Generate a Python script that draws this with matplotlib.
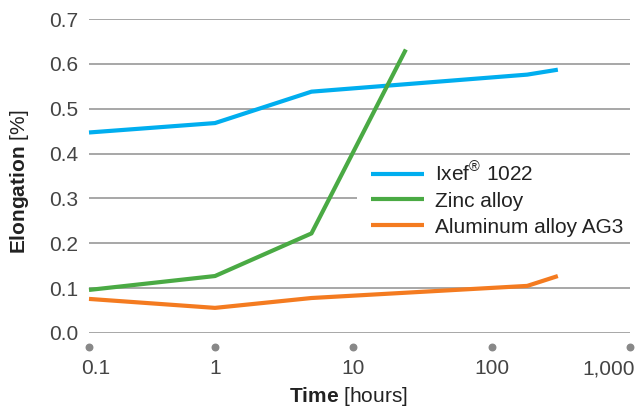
import matplotlib
matplotlib.use('Agg')
import matplotlib.pyplot as plt
import matplotlib.transforms as mtransforms
from matplotlib.patches import Rectangle
import numpy as np

# data
hours_ixef = [0.1, 1, 5, 180, 300]
ixef = [0.447, 0.468, 0.538, 0.576, 0.587]
hours_zinc = [0.1, 1, 5, 24]
zinc = [0.096, 0.127, 0.222, 0.632]
hours_alu = [0.1, 1, 5, 180, 300]
alu = [0.076, 0.056, 0.078, 0.105, 0.127]

x_ticks = [0.1, 1, 10, 100, 1000]
x_ticklabels = ['0.1', '1', '10', '100', '1,000']
y_ticks = [0.0, 0.1, 0.2, 0.3, 0.4, 0.5, 0.6, 0.7]

colors = {'ixef': '#00aeef', 'zinc': '#4aaa44', 'alu': '#f47b20'}

plt.rcParams['font.family'] = ['Liberation Sans', 'DejaVu Sans']
plt.rcParams['mathtext.fontset'] = 'custom'
plt.rcParams['mathtext.rm'] = 'Liberation Sans'
plt.rcParams['mathtext.bf'] = 'Liberation Sans:bold'

# the source axis has a slightly shorter first decade
dec = [-1, 0, 1, 2, 3]
pos = [0, 126, 264, 403, 541]


def fwd(x):
    x = np.asarray(x, dtype=float)
    return np.interp(np.log10(np.clip(x, 1e-6, None)), dec, pos)


def inv(p):
    return 10 ** np.interp(p, pos, dec)


fig = plt.figure(figsize=(6.38, 4.08), dpi=100)
ax = fig.add_axes([89 / 638, 75 / 408, 541 / 638, 314 / 408])
ax.set_xscale('function', functions=(fwd, inv))
ax.set_xlim(0.1, 1000)
ax.set_ylim(0, 0.7)

ax.plot(hours_ixef, ixef, color=colors['ixef'], lw=3, label=r'Ixef$^{\mathrm{®}}$ 1022',
        clip_on=False, solid_capstyle='butt', zorder=3)
ax.plot(hours_zinc, zinc, color=colors['zinc'], lw=3, label='Zinc alloy',
        clip_on=False, solid_capstyle='butt', zorder=3)
ax.plot(hours_alu, alu, color=colors['alu'], lw=3, label='Aluminum alloy AG3',
        clip_on=False, solid_capstyle='butt', zorder=3)

for s in ax.spines.values():
    s.set_visible(False)

ax.set_yticks(y_ticks)
ax.set_yticklabels(['%.1f' % v for v in y_ticks])
ax.grid(axis='y', color='#a0a0a0', lw=1.3)
ax.set_axisbelow(True)
ax.set_xticks(x_ticks)
ax.set_xticklabels(x_ticklabels)
ax.minorticks_off()
ax.tick_params(axis='both', length=0, labelsize=15, labelcolor='#444444')
ax.tick_params(axis='y', pad=8)
ax.tick_params(axis='x', pad=19)

# end labels sit a little inward of their dots
shifts = [7, 0, 0, 0, -21]
for lab, dx in zip(ax.get_xticklabels(), shifts):
    lab.set_transform(lab.get_transform()
                      + mtransforms.ScaledTranslation(dx / 100, 0, fig.dpi_scale_trans))

# grey dots under the axis in place of tick marks
off = mtransforms.ScaledTranslation(0, -14 / 100, fig.dpi_scale_trans)
ax.scatter(x_ticks, [0] * len(x_ticks), s=22, color='#888888',
           transform=ax.get_xaxis_transform() + off, clip_on=False, zorder=3)

ax.set_xlabel(r'$\mathbf{Time}$ [hours]', fontsize=15, color='#222222')
ax.set_ylabel(r'$\mathbf{Elongation}$ [%]', fontsize=15, color='#222222')
ax.xaxis.set_label_coords(0.479, -0.166)
ax.yaxis.set_label_coords(-0.107, 0.48)

# white block behind the legend hides the 0.3 gridline there
ax.add_patch(Rectangle((0.495, 0.30), 0.52, 0.25, transform=ax.transAxes,
                       facecolor='white', edgecolor='none', zorder=1.5,
                       clip_on=False))

leg = ax.legend(loc='upper left', bbox_to_anchor=(0.502, 0.581), fontsize=15,
                frameon=False, handlelength=2.55, handletextpad=0.5,
                labelspacing=0.33, borderpad=0.5, borderaxespad=0)
for t in leg.get_texts():
    t.set_color('#222222')

fig.savefig('out.png', dpi=100)
